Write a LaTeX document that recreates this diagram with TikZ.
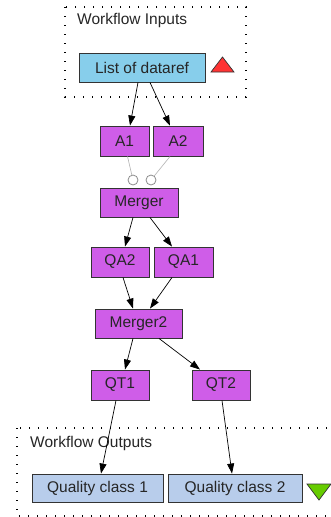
\documentclass[tikz,border=0pt]{standalone}
\usepackage{fontspec}
\setmainfont{Liberation Sans}
\usetikzlibrary{arrows.meta,calc}
\definecolor{procfill}{HTML}{CF5DE8}
\definecolor{infill}{HTML}{87CEEB}
\definecolor{outfill}{HTML}{B8CDEB}
\definecolor{edgec}{HTML}{333333}
\definecolor{redtri}{HTML}{FF3333}
\definecolor{greentri}{HTML}{66CC00}
\begin{document}
\begin{tikzpicture}[x=1pt,y=-1pt,
  box/.style={draw=edgec,line width=0.9pt,inner sep=0pt,font=\fontsize{15.5}{17}\selectfont,text=black!85},
  proc/.style={box,fill=procfill},
  inp/.style={box,fill=infill},
  outp/.style={box,fill=outfill},
  flow/.style={-{Triangle[length=10pt,width=7pt]},line width=0.7pt,black},
  grayline/.style={line width=0.6pt,black!30},
  port/.style={circle,draw=black!45,line width=0.8pt,fill=white,minimum size=10pt,inner sep=0pt},
  cluster/.style={dash pattern=on 1.1pt off 7.9pt,line width=1.1pt,black},
  lbl/.style={anchor=west,inner sep=0pt,font=\fontsize{15.5}{17}\selectfont,text=black!85}]
\useasboundingbox (0,0) rectangle (331,517);
\clip (0,0) rectangle (331,517);
\fill[white] (0,0) rectangle (331,517);
% clusters
\draw[cluster] (65,7) rectangle (246,97);
\draw[cluster] (17,428) rectangle (345,516);
\node[lbl] (tin) at (77,20) {Workflow Inputs};
\node[lbl] (tout) at (30,443) {Workflow Outputs};
% nodes
\node[inp,minimum width=126pt,minimum height=29pt] (list) at (142,67.5) {List of dataref};
\node[proc,minimum width=49pt,minimum height=30pt] (a1) at (124.5,141) {A1};
\node[proc,minimum width=50pt,minimum height=30pt] (a2) at (178,141) {A2};
\node[proc,minimum width=78pt,minimum height=29pt] (m1) at (139,202.5) {Merger};
\node[proc,minimum width=58pt,minimum height=30pt] (qa2) at (120,262) {QA2};
\node[proc,minimum width=59pt,minimum height=30pt] (qa1) at (183.5,262) {QA1};
\node[proc,minimum width=87pt,minimum height=29pt] (m2) at (138.5,323.5) {Merger2};
\node[proc,minimum width=58pt,minimum height=30pt] (qt1) at (120,385) {QT1};
\node[proc,minimum width=58pt,minimum height=30pt] (qt2) at (221,385) {QT2};
\node[outp,minimum width=131pt,minimum height=28pt] (qc1) at (97.5,488) {Quality class 1};
\node[outp,minimum width=134pt,minimum height=28pt] (qc2) at (235,488) {Quality class 2};
% markers
\draw[draw=edgec,fill=redtri,line width=0.7pt] (211,72) -- (234,72) -- (222.5,57) -- cycle;
\draw[draw=edgec,fill=greentri,line width=0.7pt] (307,484) -- (331,484) -- (319,500) -- cycle;
% ports
\node[port] (p1) at (133,180) {};
\node[port] (p2) at (151,180) {};
\draw[grayline] ([xshift=3pt]a1.south) -- (p1);
\draw[grayline] ([xshift=-8pt]a2.south) -- (p2);
% edges
\draw[flow] ([xshift=-4pt]list.south) -- ([xshift=5.5pt]a1.north);
\draw[flow] ([xshift=8pt]list.south) -- ([xshift=-8pt]a2.north);
\draw[flow] ([xshift=-6pt]m1.south) -- ([xshift=5pt]qa2.north);
\draw[flow] ([xshift=11pt]m1.south) -- ([xshift=-11.5pt]qa1.north);
\draw[flow] ([xshift=3pt]qa2.south) -- ([xshift=-5.5pt]m2.north);
\draw[flow] ([xshift=-11.5pt]qa1.south) -- ([xshift=11.5pt]m2.north);
\draw[flow] ([xshift=-5.5pt]m2.south) -- ([xshift=5pt]qt1.north);
\draw[flow] ([xshift=20.5pt]m2.south) -- ([xshift=-21pt]qt2.north);
\draw[flow] ([xshift=-4pt]qt1.south) -- ([xshift=3.5pt]qc1.north);
\draw[flow] ([xshift=1pt]qt2.south) -- ([xshift=-3pt]qc2.north);
\end{tikzpicture}
\end{document}
